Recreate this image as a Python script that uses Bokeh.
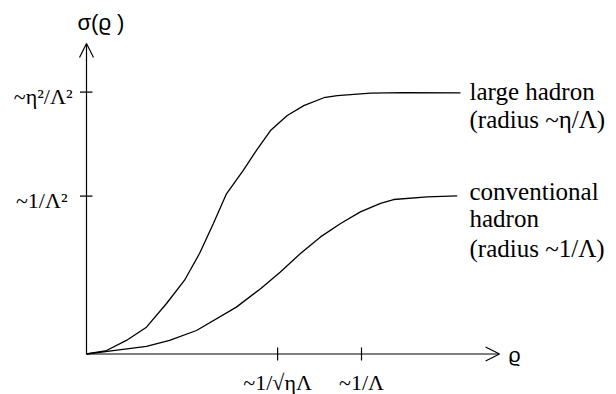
from bokeh.plotting import figure
from bokeh.models import Range1d, Arrow, OpenHead
from bokeh.core.properties import value
from bokeh.embed import file_html
from bokeh.resources import INLINE

# ---- data (x in units of 1/Lambda, y in units of 1/Lambda^2) ----
large_x = [0.0, 0.073, 0.145, 0.218, 0.291, 0.356, 0.411, 0.461, 0.509, 0.570, 0.618,
           0.669, 0.730, 0.790, 0.863, 0.912, 1.033, 1.153, 1.360]
large_y = [0.0, 0.022, 0.086, 0.170, 0.320, 0.466, 0.637, 0.825, 1.015, 1.163, 1.290,
           1.416, 1.511, 1.574, 1.624, 1.638, 1.653, 1.657, 1.655]
conv_x = [0.0, 0.097, 0.218, 0.302, 0.400, 0.545, 0.633, 0.705, 0.778, 0.851, 0.924,
          0.996, 1.069, 1.117, 1.239, 1.348]
conv_y = [0.0, 0.022, 0.048, 0.086, 0.149, 0.297, 0.414, 0.520, 0.637, 0.742, 0.827,
          0.901, 0.954, 0.979, 0.996, 1.002]

x_ticks = [0.695, 1.0]
x_tick_labels = ["~1/\u221a\u03b7\u039b", "~1/\u039b"]
y_ticks = [1.0, 1.659]
y_tick_labels = ["~1/\u039b\u00b2", "~\u03b7\u00b2/\u039b\u00b2"]
x_axis_end = 1.502
y_axis_end = 1.968
y_axis_label = "\u03c3(\u03f1 )"
x_axis_label = "\u03f1"
large_label = ["large hadron", "(radius  ~\u03b7/\u039b)"]
conv_label = ["conventional", "hadron", "(radius ~1/\u039b)"]

# ---- geometry: pixels per data unit ----
W, H = 616, 394
SX, SY = 275.0, 157.8
X0, Y0 = 86.0, 353.5  # canvas position of origin

p = figure(width=W, height=H, output_backend="svg", toolbar_location=None,
           x_range=Range1d(-X0 / SX, (W - X0) / SX),
           y_range=Range1d(-(H - Y0) / SY, Y0 / SY),
           min_border=0, min_border_left=0, min_border_right=0,
           min_border_top=0, min_border_bottom=0)
p.axis.visible = False
p.grid.visible = False
p.outline_line_color = None
p.background_fill_color = "white"
p.border_fill_color = "white"

def px(n):
    return n / SX

def py(n):
    return n / SY

# axes with arrows
p.add_layout(Arrow(x_start=0, y_start=0, x_end=x_axis_end, y_end=0,
                   line_color="black", line_width=1.2,
                   end=OpenHead(size=14, line_color="black", line_width=1.2)))
p.add_layout(Arrow(x_start=0, y_start=0, x_end=0, y_end=y_axis_end,
                   line_color="black", line_width=1.2,
                   end=OpenHead(size=14, line_color="black", line_width=1.2)))

# tick marks
p.segment(x0=x_ticks, y0=[-py(6.5)] * 2, x1=x_ticks, y1=[py(6.5)] * 2,
          line_color="black", line_width=1.2)
p.segment(x0=[-px(6.5)] * 2, y0=y_ticks, x1=[px(6)] * 2, y1=y_ticks,
          line_color="black", line_width=1.2)

serif = value("Liberation Serif")
sans = value("Liberation Sans")

# tick labels
p.text(x=x_ticks, y=[-py(16)] * 2, text=x_tick_labels, text_font=serif,
       text_font_size="22px", text_align="center", text_baseline="top",
       text_color="black")
p.text(x=[-px(19), -px(14)], y=[t - py(4) for t in y_ticks], text=y_tick_labels,
       text_font=serif, text_font_size="22px", text_align="right",
       text_baseline="alphabetic", text_color="black")

# axis names
p.text(x=[-px(9)], y=[y_axis_end + py(21)], text=[y_axis_label], text_font=sans,
       text_font_size="22px", text_align="left", text_baseline="middle",
       text_color="black")
p.text(x=[x_axis_end + px(9)], y=[0], text=[x_axis_label], text_font=sans,
       text_font_size="21px", text_align="left", text_baseline="middle",
       text_color="black")

# curves
p.line(large_x, large_y, line_color="black", line_width=1.3)
p.line(conv_x, conv_y, line_color="black", line_width=1.3)

# curve labels
lx = large_x[-1] + px(9)
p.text(x=[lx] * 2, y=[large_y[-1] + py(1), large_y[-1] - py(27)], text=large_label,
       text_font=serif, text_font_size="25px", text_align="left",
       text_baseline="alphabetic", text_color="black")
p.text(x=[lx] * 3, y=[conv_y[-1] + py(4), conv_y[-1] - py(23), conv_y[-1] - py(53)],
       text=conv_label, text_font=serif, text_font_size="25px", text_align="left",
       text_baseline="alphabetic", text_color="black")

open("out.html", "w").write(file_html(p, INLINE))
